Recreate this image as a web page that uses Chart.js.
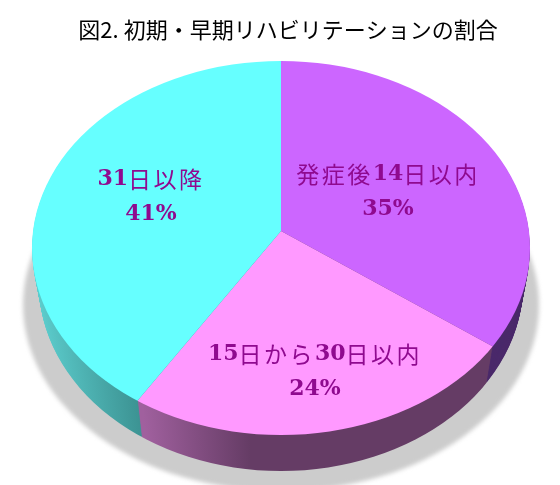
<!DOCTYPE html>
<html lang="ja">
<head>
<meta charset="utf-8">
<title>初期・早期リハビリテーションの割合</title>
<script src="https://cdn.jsdelivr.net/npm/chart.js"></script>
<style>
  html, body { margin: 0; padding: 0; background: #fff; }
  canvas { display: block; }
</style>
</head>
<body>
<canvas id="myChart" width="560" height="485"></canvas>
<script>
const titleText = '図2. 初期・早期リハビリテーションの割合';
const categories = ['発症後14日以内', '15日から30日以内', '31日以降'];
const shares = [35, 24, 41];
const sliceColors = ['#cc66ff', '#ff99ff', '#66ffff'];

const digitFont = 'bold 22px "DejaVu Serif", serif';
const kanjiFont = '23px "Noto Sans CJK JP", sans-serif';
const labelColor = '#8f0a8f';
// label centres, same order as categories
const labelSpots = [[388, 174], [315, 354], [151, 179]];

// the tilted disc: an ellipse, with the pie's centre above the ellipse's centre
const disc = { cx: 281, cy: 248, rx: 249, ry: 187, tilt: 0.75, depth: 36, shrink: 0.028 };

function ellipsePath(ctx, cy, rx, ry) {
  ctx.beginPath();
  ctx.ellipse(disc.cx, cy, rx, ry, 0, 0, Math.PI * 2);
}

function wallFill(ctx, i) {
  if (i === 0) return '#4b2a6b';
  const g = ctx.createLinearGradient(i === 1 ? 142 : 36, 0, i === 1 ? 250 : 145, 0);
  if (i === 1) {
    g.addColorStop(0, '#a0609e');
    g.addColorStop(1, '#653c65');
  } else {
    g.addColorStop(0, '#5ccccc');
    g.addColorStop(1, '#3a8f8f');
  }
  return g;
}

// digits are bold serif, the kana and kanji are plain; draw the runs side by side
function drawLabel(ctx, text, x, y) {
  const runs = text.match(/[0-9%]+|[^0-9%]+/g).map(t => {
    const digits = /[0-9%]/.test(t[0]);
    ctx.font = digits ? digitFont : kanjiFont;
    ctx.letterSpacing = digits ? '0px' : '2.5px';
    return { t, font: ctx.font, spacing: ctx.letterSpacing, w: ctx.measureText(t).width };
  });
  let left = x - runs.reduce((sum, r) => sum + r.w, 0) / 2;
  runs.forEach(r => {
    ctx.font = r.font;
    ctx.letterSpacing = r.spacing;
    ctx.fillText(r.t, left, y);
    left += r.w;
  });
  ctx.letterSpacing = '0px';
}

const tiltedPie = {
  id: 'tiltedPie',
  beforeDatasetsDraw(chart) {
    const ctx = chart.ctx;
    const arcs = chart.getDatasetMeta(0).data;
    const px = arcs[0].x, py = arcs[0].y;

    // soft grey shadow under the disc
    ctx.save();
    ctx.filter = 'blur(2px)';
    ctx.fillStyle = '#cccccc';
    ellipsePath(ctx, 305, 258, 186);
    ctx.fill();
    ctx.restore();

    // side wall: stack the slices downward, far layer first
    for (let d = disc.depth; d > 0; d--) {
      const k = 1 - disc.shrink * d / disc.depth;
      ctx.save();
      ellipsePath(ctx, disc.cy + d, disc.rx * k, disc.ry);
      ctx.clip();
      ctx.translate(px, py + d);
      ctx.scale(k, disc.tilt);
      ctx.translate(-px, -py);
      arcs.forEach((arc, i) => {
        ctx.fillStyle = wallFill(ctx, i);
        ctx.beginPath();
        ctx.moveTo(px, py);
        ctx.arc(px, py, arc.outerRadius, arc.startAngle, arc.endAngle);
        ctx.closePath();
        ctx.fill();
      });
      ctx.restore();
    }

    // top face: the library's own arcs, squashed and cut to the ellipse
    ctx.save();
    ellipsePath(ctx, disc.cy, disc.rx, disc.ry);
    ctx.clip();
    ctx.translate(px, py);
    ctx.scale(1, disc.tilt);
    ctx.translate(-px, -py);
  },
  afterDatasetsDraw(chart) {
    const ctx = chart.ctx;
    ctx.restore();

    ctx.textAlign = 'center';
    ctx.textBaseline = 'middle';
    ctx.fillStyle = '#000';
    ctx.font = '22px "Noto Sans CJK JP", sans-serif';
    ctx.fillText(titleText, 288, 30);

    ctx.textAlign = 'left';
    ctx.fillStyle = labelColor;
    categories.forEach((name, i) => {
      const [x, y] = labelSpots[i];
      drawLabel(ctx, name, x, y);
      drawLabel(ctx, shares[i] + '%', x, y + 35);
    });
  }
};

new Chart(document.getElementById('myChart'), {
  type: 'pie',
  data: {
    labels: categories,
    datasets: [{
      data: shares,
      backgroundColor: sliceColors,
      borderWidth: 0,
      radius: 320
    }]
  },
  options: {
    responsive: false,
    animation: false,
    layout: { padding: { left: 2, bottom: 23 } },
    plugins: { legend: { display: false }, tooltip: { enabled: false } }
  },
  plugins: [tiltedPie]
});
</script>
</body>
</html>
